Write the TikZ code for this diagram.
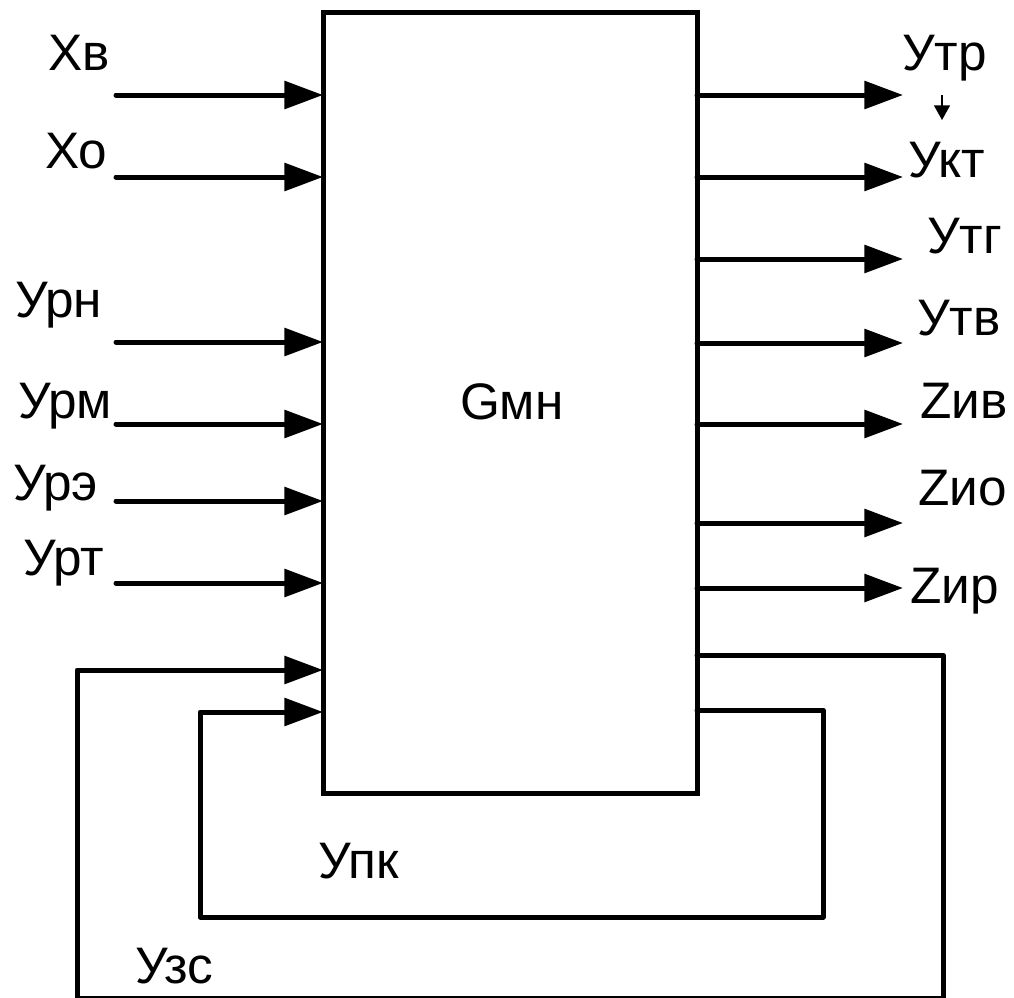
\documentclass[tikz,border=0pt]{standalone}
\usepackage{fontspec}
\setmainfont{Liberation Sans}
\usetikzlibrary{arrows.meta}
\begin{document}
\begin{tikzpicture}[x=0.75pt,y=-0.75pt,
  wire/.style={line width=3.75pt,line cap=round,line join=round},
  sig/.style={wire,-{Triangle[length=29pt,width=20.5pt]}},
  lbl/.style={anchor=base west,inner sep=0pt,outer sep=0pt,font=\fontsize{38.5}{40}\selectfont},
  block/.style={draw,line width=3.75pt,inner sep=0pt,outer sep=0pt,minimum width=280.5pt,minimum height=585.75pt}]
\useasboundingbox (0,0) rectangle (1014,997);
\node[block] (G) at (510,402.5) {};
\node[lbl] (lG) at (460,419) {Gмн};
% inputs
\coordinate (i1) at (116,95);
\coordinate (i2) at (116,177);
\coordinate (i3) at (116,342);
\coordinate (i4) at (116,424);
\coordinate (i5) at (116,501);
\coordinate (i6) at (116,583);
\foreach \k in {1,...,6} \draw[sig] (i\k) -- (i\k -| G.west);
\node[lbl] (lXv) at (48,70) {Хв};
\node[lbl] (lXo) at (45,168) {Хо};
\node[lbl] (lUrn) at (15,317) {Урн};
\node[lbl] (lUrm) at (18,418) {Урм};
\node[lbl] (lUre) at (13,500) {Урэ};
\node[lbl] (lUrt) at (23,575) {Урт};
% outputs
\coordinate (o1) at (903,95);
\coordinate (o2) at (903,177);
\coordinate (o3) at (903,259);
\coordinate (o4) at (903,343);
\coordinate (o5) at (903,424);
\coordinate (o6) at (903,523);
\coordinate (o7) at (903,588);
\foreach \k in {1,...,7} \draw[sig] (o\k -| G.east) -- (o\k);
\node[lbl] (lUtr) at (902,70) {Утр};
\node[lbl] (lUkt) at (908,177) {Укт};
\node[lbl] (lUtg) at (927,253) {Утг};
\node[lbl] (lUtv) at (917,335) {Утв};
\node[lbl] (lZiv) at (920,418) {Zив};
\node[lbl] (lZio) at (918,505) {Zио};
\node[lbl] (lZir) at (910,603) {Zир};
% small arrow between Utr and Ukt
\coordinate (s1) at (942,95);
\coordinate (s2) at (942,120);
\draw[line width=1.1pt,-{Triangle[length=11pt,width=12pt]}] (s1) -- (s2);
% feedback loops
\coordinate (fo) at (697,655);
\coordinate (fi) at (697,710);
\draw[sig] (fo -| G.east) -| (943,998) -| (77,670) -- (323,670 -| G.west);
\draw[sig] (fi -| G.east) -| (823,917) -| (200,712) -- (200,712 -| G.west);
\node[lbl] (lUpk) at (318,878) {Упк};
\node[lbl] (lUzs) at (135,983) {Узс};
\end{tikzpicture}
\end{document}
